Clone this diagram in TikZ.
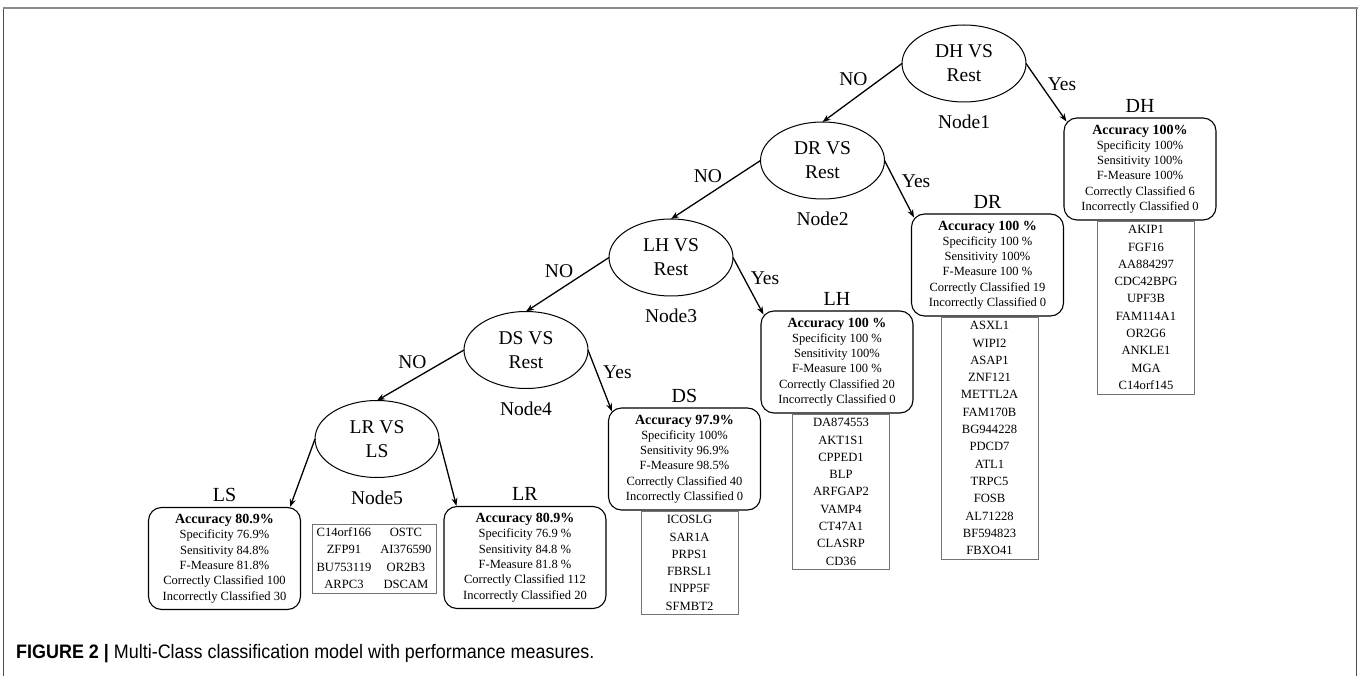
\documentclass[tikz,border=0pt]{standalone}
\usepackage{fontspec}
\setmainfont{Liberation Serif}
\newfontfamily\captionfont[FakeStretch=0.92]{Liberation Sans}
\usepackage{tikz}
\usetikzlibrary{shapes.geometric}
\usetikzlibrary{positioning}
\usetikzlibrary{calc}
\usetikzlibrary{arrows.meta}
\tikzset{%
  split node/.style={ellipse, draw, line width=1pt, minimum width=124pt, minimum height=77pt,
    inner sep=0pt, outer sep=0pt, align=center, font=\fontsize{19.5pt}{24pt}\selectfont},
  node name/.style={inner sep=0pt, font=\fontsize{19.5pt}{24pt}\selectfont},
  class label/.style={inner sep=0pt, font=\fontsize{20pt}{24pt}\selectfont},
  class box/.style={draw, rounded corners=13pt, line width=1.1pt, minimum width=152pt,
    minimum height=102pt, inner sep=0pt, align=center, font=\fontsize{12.5pt}{15.3pt}\selectfont},
  gene list/.style={draw=black!55, line width=0.9pt, minimum width=97pt, minimum height=#1*17.3pt,
    inner sep=0pt, align=center, font=\fontsize{12.6pt}{17.3pt}\selectfont},
  branch/.style={-{Stealth[length=8pt,width=6pt]}, line width=1.3pt},
  no label/.style={pos=0.4, anchor=east, xshift=-2pt, yshift=8pt, inner sep=0pt,
    font=\fontsize{19.5pt}{24pt}\selectfont},
  yes label/.style={pos=0.4, anchor=west, xshift=5pt, yshift=2pt, inner sep=0pt,
    font=\fontsize{19.5pt}{24pt}\selectfont}
}
\newcommand{\acc}[1]{{\fontsize{14pt}{17pt}\selectfont\bfseries Accuracy #1}}

\begin{document}
\begin{tikzpicture}[x=1pt,y=-1pt]
\useasboundingbox (0,0) rectangle (1360,676);

% frame
\draw[gray!90, line width=2pt] (2.5,8.5) -- (1357.5,8.5);
\draw[black!70, line width=1pt] (3.5,9) -- (3.5,676);
\draw[black!70, line width=1pt] (1356,9) -- (1356,676);

% split nodes
\node[split node] (dhNode) at (964,63.5) {DH VS\\Rest};
\node[split node] (drNode) at (822.5,160.5) {DR VS\\Rest};
\node[split node] (lhNode) at (671,257.5) {LH VS\\Rest};
\node[split node] (dsNode) at (526,350) {DS VS\\Rest};
\node[split node] (lrNode) at (377,439) {LR VS\\LS};
\node[node name, below=13pt of dhNode] (dhName) {Node1};
\node[node name, below=13pt of drNode] (drName) {Node2};
\node[node name, below=13pt of lhNode] (lhName) {Node3};
\node[node name, below=13pt of dsNode] (dsName) {Node4};
\node[node name, below=13pt of lrNode] (lrName) {Node5};

% class boxes
\node[class box] (dhBox) at (1140,169) {\acc{100\%}\\Specificity 100\%\\Sensitivity 100\%\\F-Measure 100\%\\Correctly Classified 6\\Incorrectly Classified 0};
\node[class box] (drBox) at (987.5,265) {\acc{100 \%}\\Specificity 100 \%\\Sensitivity 100\%\\F-Measure 100 \%\\Correctly Classified 19\\Incorrectly Classified 0};
\node[class box] (lhBox) at (837,362) {\acc{100 \%}\\Specificity 100 \%\\Sensitivity 100\%\\F-Measure 100 \%\\Correctly Classified 20\\Incorrectly Classified 0};
\node[class box] (dsBox) at (684.5,459) {\acc{97.9\%}\\Specificity 100\%\\Sensitivity 96.9\%\\F-Measure 98.5\%\\Correctly Classified 40\\Incorrectly Classified 0};
\node[class box] (lsBox) at (224.5,558.5) {\acc{80.9\%}\\Specificity 76.9\%\\Sensitivity 84.8\%\\F-Measure 81.8\%\\Correctly Classified 100\\Incorrectly Classified 30};
\node[class box, minimum width=162pt] (lrBox) at (525,557.5) {\acc{80.9\%}\\Specificity 76.9 \%\\Sensitivity 84.8 \%\\F-Measure 81.8 \%\\Correctly Classified 112\\Incorrectly Classified 20};
\node[class label, above=5pt of dhBox] (dhLabel) {DH};
\node[class label, above=5pt of drBox] (drLabel) {DR};
\node[class label, above=5pt of lhBox] (lhLabel) {LH};
\node[class label, above=5pt of dsBox] (dsLabel) {DS};
\node[class label, above=5pt of lsBox] (lsLabel) {LS};
\node[class label, above=5pt of lrBox] (lrLabel) {LR};

% gene lists
\node[gene list=10, below=0pt of dhBox, xshift=6pt] (dhGenes) {AKIP1\\FGF16\\AA884297\\CDC42BPG\\UPF3B\\FAM114A1\\OR2G6\\ANKLE1\\MGA\\C14orf145};
\node[gene list=14, below=0pt of drBox, xshift=2pt] (drGenes) {ASXL1\\WIPI2\\ASAP1\\ZNF121\\METTL2A\\FAM170B\\BG944228\\PDCD7\\ATL1\\TRPC5\\FOSB\\AL71228\\BF594823\\FBXO41};
\node[gene list=9, below=0pt of lhBox, xshift=4pt] (lhGenes) {DA874553\\AKT1S1\\CPPED1\\BLP\\ARFGAP2\\VAMP4\\CT47A1\\CLASRP\\CD36};
\node[gene list=6, below=0pt of dsBox, xshift=5pt] (dsGenes) {ICOSLG\\SAR1A\\PRPS1\\FBRSL1\\INPP5F\\SFMBT2};
\node[gene list=4, inner xsep=4.5pt] (lrGenes) at (374,559) {\begin{tabular}{@{}c@{\hspace{9pt}}c@{}}
  C14orf166 & OSTC\\ ZFP91 & AI376590\\ BU753119 & OR2B3\\ ARPC3 & DSCAM
\end{tabular}};

% branches
\draw[branch] (dhNode.west) -- node[no label] (noOne) {NO} (drNode.north);
\draw[branch] (drNode.west) -- node[no label] (noTwo) {NO} (lhNode.north);
\draw[branch] (lhNode.west) -- node[no label] (noThree) {NO} (dsNode.north);
\draw[branch] (dsNode.west) -- node[no label] (noFour) {NO} (lrNode.north);
\draw[branch] (dhNode.east) -- node[yes label] (yesOne) {Yes} ($(dhBox.north west)+(3,4)$);
\draw[branch] (drNode.east) -- node[yes label] (yesTwo) {Yes} ($(drBox.north west)+(3,4)$);
\draw[branch] (lhNode.east) -- node[yes label] (yesThree) {Yes} ($(lhBox.north west)+(3,4)$);
\draw[branch] (dsNode.east) -- node[yes label] (yesFour) {Yes} ($(dsBox.north west)+(4,4)$);
\draw[branch] (lrNode.west) -- ($(lsBox.north east)+(-11,0)$);
\draw[branch] (lrNode.east) -- ($(lrBox.north west)+(13,0)$);

% caption
\node[anchor=base west, inner sep=0pt, font=\captionfont\fontsize{19.5pt}{22pt}\selectfont] (caption) at (16,658)
  {\textbf{FIGURE 2 |} Multi-Class classification model with performance measures.};
\end{tikzpicture}
\end{document}
